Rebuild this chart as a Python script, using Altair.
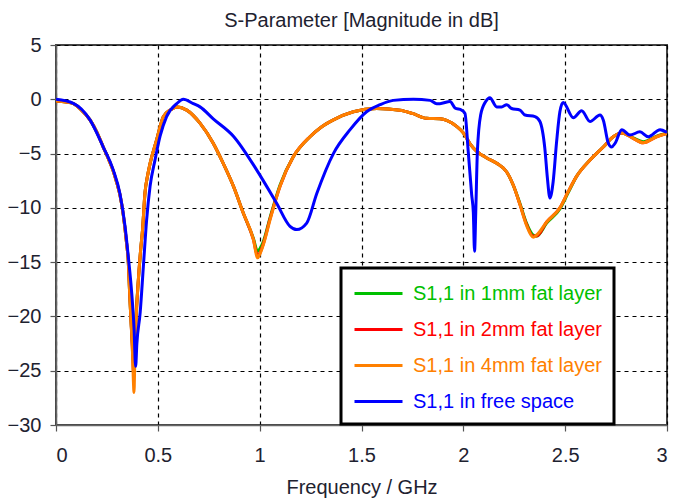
import altair as alt
import pandas as pd

series_names = ["S1,1 in 1mm fat layer", "S1,1 in 2mm fat layer",
                "S1,1 in 4mm fat layer", "S1,1 in free space"]
series_colors = ["#00c000", "#ff0000", "#ff8000", "#0000ff"]

freq_fat = [0, 0.05, 0.085, 0.12, 0.167, 0.2, 0.232, 0.26, 0.281, 0.30, 0.314, 0.33,
            0.345, 0.355, 0.362, 0.368, 0.375, 0.380, 0.383, 0.387, 0.393, 0.403,
            0.415, 0.425, 0.437, 0.45, 0.462, 0.494, 0.527, 0.56, 0.595, 0.642,
            0.707, 0.772, 0.821, 0.871, 0.92, 0.969, 0.99, 1.0, 1.018, 1.051, 1.1,
            1.165, 1.247, 1.30, 1.362, 1.46, 1.575, 1.689, 1.75, 1.82, 1.885, 1.918,
            1.967, 2.0, 2.033, 2.066, 2.115, 2.164, 2.213, 2.245, 2.278, 2.31, 2.343,
            2.36, 2.409, 2.474, 2.515, 2.556, 2.622, 2.687, 2.736, 2.778, 2.834,
            2.883, 2.949, 3.0]

s11_1mm = [-0.15, -0.25, -0.4, -0.9, -1.9, -3.0, -4.4, -5.6, -6.6, -7.8, -8.8, -10.6,
           -13.0, -15.0, -18.0, -20.3, -22.5, -24.0, -24.2, -23.0, -20.0, -17.0,
           -14.0, -12.0, -8.6, -7.0, -5.9, -3.75, -1.6, -1.0, -0.7, -1.0,
           -2.2, -4.05, -5.9, -8.0, -10.5, -12.8, -14.0, -13.8, -13.1, -10.9, -7.9,
           -5.3, -3.45, -2.6, -1.9, -1.15, -0.85, -1.0, -1.3, -1.75, -1.8, -1.95,
           -2.5, -3.1, -4.1, -4.8, -5.4, -5.9, -6.7, -7.9, -9.6, -11.4, -12.5,
           -12.6, -11.4, -10.1, -8.6, -7.1, -5.6, -4.4, -3.45, -3.1, -3.55,
           -3.9, -3.4, -3.1]

s11_2mm = [-0.15, -0.25, -0.4, -0.9, -1.9, -3.0, -4.4, -5.6, -6.6, -7.8, -8.8, -10.6,
           -13.0, -15.0, -18.0, -20.3, -23.0, -25.0, -25.5, -23.5, -20.3, -17.0,
           -14.0, -12.0, -8.6, -7.0, -5.9, -3.75, -1.6, -1.0, -0.7, -1.0,
           -2.2, -4.05, -5.9, -8.0, -10.5, -12.9, -14.4, -14.2, -13.3, -11.0, -8.0,
           -5.3, -3.45, -2.6, -1.9, -1.15, -0.85, -1.0, -1.3, -1.75, -1.8, -1.95,
           -2.5, -3.1, -4.1, -4.8, -5.4, -5.9, -6.7, -7.9, -9.7, -11.5, -12.6,
           -12.6, -11.3, -10.0, -8.5, -7.1, -5.6, -4.4, -3.45, -3.1, -3.6,
           -4.0, -3.45, -3.15]

s11_4mm = [-0.15, -0.25, -0.4, -0.9, -1.9, -3.0, -4.4, -5.6, -6.6, -7.8, -8.8, -10.6,
           -13.0, -15.0, -18.0, -20.3, -23.0, -26.0, -27.0, -24.0, -20.5, -17.0,
           -14.0, -12.0, -8.6, -7.0, -5.9, -3.75, -1.6, -1.0, -0.7, -1.0,
           -2.2, -4.05, -5.9, -8.0, -10.5, -12.9, -14.6, -14.3, -13.4, -11.1, -8.0,
           -5.3, -3.45, -2.6, -1.9, -1.15, -0.85, -1.0, -1.3, -1.75, -1.8, -1.95,
           -2.5, -3.1, -4.1, -4.8, -5.4, -5.9, -6.7, -7.9, -9.7, -11.6, -12.7,
           -12.5, -11.3, -10.0, -8.5, -7.1, -5.6, -4.4, -3.45, -3.1, -3.6,
           -4.0, -3.45, -3.15]

freq_free = [0, 0.085, 0.167, 0.232, 0.281, 0.314, 0.339, 0.355, 0.372, 0.383, 0.391,
             0.397, 0.413, 0.429, 0.445, 0.462, 0.486, 0.511, 0.543, 0.593, 0.625,
             0.674, 0.707, 0.772, 0.871, 0.985, 1.084, 1.149, 1.182, 1.231, 1.28,
             1.362, 1.444, 1.525, 1.591, 1.656, 1.755, 1.837, 1.869, 1.885, 1.935,
             1.959, 1.992, 2.008, 2.024, 2.041, 2.049, 2.055, 2.061, 2.069, 2.085,
             2.11, 2.13, 2.164, 2.188, 2.213, 2.237, 2.278, 2.303, 2.352, 2.376,
             2.40, 2.413, 2.425, 2.441, 2.458, 2.474, 2.49, 2.54, 2.581, 2.622,
             2.671, 2.687, 2.712, 2.728, 2.745, 2.778, 2.818, 2.867, 2.908, 2.966, 3.0]

s11_free = [0.0, -0.37, -1.9, -4.4, -6.5, -8.7, -11.7, -14.5, -17.9, -21.0, -24.6,
            -22.5, -19.7, -15.4, -11.1, -8.0, -5.6, -3.4, -1.6, -0.4, 0.0,
            -0.4, -0.7, -1.8, -3.4, -6.5, -9.6, -11.7, -12.0, -11.4, -8.7,
            -5.0, -2.8, -1.15, -0.5, -0.1, 0.0, -0.1, -0.4, -0.4, -0.2,
            -0.8, -1.0, -1.3, -4.8, -8.8, -10.4, -14.0, -10.4, -4.8, -1.45,
            -0.2, 0.15, -0.7, -0.7, -0.5, -0.85, -1.0, -1.45, -1.6, -2.05,
            -4.5, -7.3, -9.1, -7.6, -3.9, -1.15, -0.3, -1.7, -1.05, -2.05,
            -1.45, -1.9, -4.05, -4.4, -4.05, -2.8, -3.3, -3.0, -3.45, -2.8, -3.05]

rows = []
for name, fr, vals in [(series_names[0], freq_fat, s11_1mm),
                       (series_names[1], freq_fat, s11_2mm),
                       (series_names[2], freq_fat, s11_4mm),
                       (series_names[3], freq_free, s11_free)]:
    for i, (f, v) in enumerate(zip(fr, vals)):
        rows.append({"series": name, "f": f, "s": v, "i": i})
df = pd.DataFrame(rows)

FONT = "Liberation Sans"
TXT = "#1e2230"

label_color_expr = ("datum.value == '%s' ? '%s' : datum.value == '%s' ? '%s' : "
                    "datum.value == '%s' ? '%s' : '%s'") % (
    series_names[0], series_colors[0], series_names[1], series_colors[1],
    series_names[2], series_colors[2], series_colors[3])

chart = alt.Chart(df).mark_line(strokeWidth=3, clip=True, interpolate="monotone").encode(
    x=alt.X("f:Q", title="Frequency / GHz",
            scale=alt.Scale(domain=[0, 3], nice=False),
            axis=alt.Axis(values=[0, 0.5, 1, 1.5, 2, 2.5, 3], format="~g",
                          labelPadding=14, titlePadding=12)),
    y=alt.Y("s:Q", title=None,
            scale=alt.Scale(domain=[-30, 5], nice=False),
            axis=alt.Axis(values=[5, 0, -5, -10, -15, -20, -25, -30], labelPadding=9)),
    color=alt.Color("series:N",
                    scale=alt.Scale(domain=series_names, range=series_colors),
                    legend=alt.Legend(title=None, orient="none", legendX=285, legendY=223,
                                      fillColor="white", strokeColor="black",
                                      padding=12, symbolType="M-1,0H3",
                                      symbolStrokeWidth=3, symbolSize=576,
                                      rowPadding=12, labelFontSize=20, labelFont=FONT,
                                      labelLimit=0, labelOffset=33,
                                      labelColor={"expr": label_color_expr})),
    order=alt.Order("i:Q"),
).properties(
    width=611, height=380,
    autosize=alt.AutoSizeParams(type="none"),
    padding={"left": 48, "top": 37, "right": 19, "bottom": 75},
    title=alt.TitleParams("S-Parameter [Magnitude in dB]", font=FONT, fontSize=20,
                          fontWeight="normal", color=TXT, offset=4),
).configure_view(
    stroke="#444444", strokeWidth=2
).configure_axis(
    grid=True, gridColor="#000000", gridDash=[4, 4], gridWidth=1.2, gridOpacity=1,
    domainColor="#666666", domainWidth=1.5, tickColor="#555555", tickSize=6,
    tickWidth=1.2, labelFont=FONT, labelFontSize=20, labelColor=TXT,
    titleFont=FONT, titleFontSize=20, titleFontWeight="normal", titleColor=TXT
).configure_legend(
    strokeWidth=3
)

chart.save("out.html", embed_options={"renderer": "svg", "actions": False})
